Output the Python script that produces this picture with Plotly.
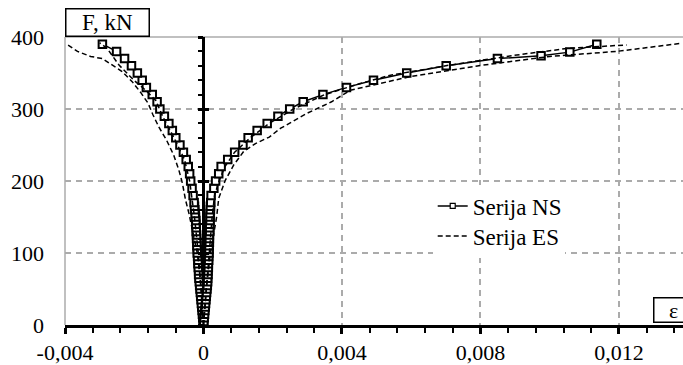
import plotly.graph_objects as go

# ---------------- data ----------------
# Serija NS (solid, open squares): compression (left) and tension (right) branches
ns_left_F = [0, 5, 10, 15, 20, 25, 30, 35, 40, 45, 50, 55, 60, 65, 70, 75, 80, 85, 90, 95,
             100, 105, 110, 115, 120, 125, 130, 135, 140, 145, 150, 155, 160, 165, 170,
             180, 190, 200, 210, 220, 230, 240, 250, 260, 270, 280, 290, 300, 310, 320,
             330, 340, 350, 360, 370, 380, 390]
ns_left_eps = [0.0, -0.00001, -0.00002, -0.00003, -0.00004, -0.00005, -0.00006, -0.00007,
               -0.00008, -0.00009, -0.00010, -0.00011, -0.00012, -0.00013, -0.00014, -0.00014,
               -0.00015, -0.00016, -0.00016, -0.00017, -0.00018, -0.00018, -0.00019, -0.00019,
               -0.00020, -0.00020, -0.00021, -0.00021, -0.00022, -0.00022, -0.00023, -0.00024,
               -0.00025, -0.00026, -0.00027,
               -0.00030, -0.00033, -0.00037, -0.00040, -0.00044, -0.00050, -0.00058, -0.00068,
               -0.00080, -0.00090, -0.00100, -0.00113, -0.00126, -0.00134, -0.00148, -0.00165,
               -0.00177, -0.00191, -0.00208, -0.00228, -0.00251, -0.00292]

ns_right_F = [0, 5, 10, 15, 20, 25, 30, 35, 40, 45, 50, 55, 60, 65, 70, 75, 80, 85, 90, 95,
              100, 105, 110, 115, 120, 125, 130, 135, 140, 145, 150, 155, 160, 165, 170,
              180, 190, 200, 210, 220, 230, 240, 250, 260, 270, 280, 290, 300, 310, 320,
              330, 340, 350, 360, 370, 374, 379, 390]
ns_right_eps = [0.0, 0.00001, 0.00002, 0.00003, 0.00004, 0.00005, 0.00006, 0.00007, 0.00008,
                0.00009, 0.00010, 0.00011, 0.00012, 0.00012, 0.00013, 0.00013, 0.00014, 0.00014,
                0.00015, 0.00015, 0.00016, 0.00016, 0.00016, 0.00017, 0.00017, 0.00017, 0.00018,
                0.00018, 0.00018, 0.00019, 0.00019, 0.00019, 0.00020, 0.00020, 0.00021,
                0.00022, 0.00030, 0.00035, 0.00044, 0.00051, 0.00070, 0.00090, 0.00114,
                0.00129, 0.00155, 0.00184, 0.00215, 0.00249, 0.00288, 0.00345, 0.00413,
                0.00491, 0.00587, 0.00701, 0.00849, 0.00975, 0.01058, 0.01136]

# Serija ES (dashed): four gauges
es_left_outer_F = [0, 50, 100, 137, 155, 174, 197, 215, 236, 257, 275, 292, 308, 322, 338,
                   352, 363, 370, 373, 380, 390]
es_left_outer_eps = [0.0, -0.00006, -0.00018, -0.00033, -0.00042, -0.00052, -0.00061, -0.00071,
                     -0.00086, -0.00107, -0.00129, -0.00146, -0.00160, -0.00180, -0.00206,
                     -0.00235, -0.00268, -0.00292, -0.00326, -0.00364, -0.00395]

es_left_inner_F = [0, 50, 100, 150, 200, 230, 260, 290, 312, 326, 340, 361, 384, 392]
es_left_inner_eps = [0.0, -0.00008, -0.00015, -0.00026, -0.00040, -0.00055, -0.00085,
                     -0.00118, -0.00138, -0.00167, -0.00201, -0.00244, -0.00278, -0.00300]

es_right_inner_F = [0, 50, 100, 150, 180, 200, 220, 240, 260, 280, 300, 320, 335, 347, 361,
                    375, 384, 389]
es_right_inner_eps = [0.0, 0.00008, 0.00016, 0.00025, 0.00032, 0.00045, 0.00062, 0.00090,
                      0.00135, 0.00190, 0.00260, 0.00350, 0.00450, 0.00540, 0.00712, 0.00905,
                      0.01049, 0.01222]

es_right_outer_F = [0, 50, 100, 130, 150, 176, 201, 222, 241, 252, 261, 273, 282, 294, 310,
                    326, 345, 361, 373, 380, 391]
es_right_outer_eps = [0.0, 0.00008, 0.00020, 0.00030, 0.00038, 0.00044, 0.00063, 0.00087,
                      0.00116, 0.00150, 0.00190, 0.00222, 0.00256, 0.00299, 0.00370, 0.00424,
                      0.00597, 0.00809, 0.01000, 0.01193, 0.01376]

x_tick_vals = [-0.004, 0, 0.004, 0.008, 0.012]
x_tick_text = ["-0,004", "0", "0,004", "0,008", "0,012"]
y_tick_vals = [0, 100, 200, 300, 400]
y_tick_text = ["0", "100", "200", "300", "400"]
x_range = [-0.004, 0.01385]
y_range = [0, 400]

FONT = "Liberation Serif, Times New Roman, serif"
GRID = "#ababab"

fig = go.Figure()

for ex, fy in [(ns_left_eps, ns_left_F), (ns_right_eps, ns_right_F)]:
    fig.add_trace(go.Scatter(x=ex, y=fy, mode="lines+markers", showlegend=False,
                             line=dict(color="black", width=1.5),
                             marker=dict(symbol="square", size=7.5, color="white",
                                         line=dict(color="black", width=2))))

es_dash = "5px,3px"
es_sets = [(es_left_outer_eps, es_left_outer_F), (es_left_inner_eps, es_left_inner_F),
           (es_right_inner_eps, es_right_inner_F), (es_right_outer_eps, es_right_outer_F)]
for ex, fy in es_sets:
    fig.add_trace(go.Scatter(x=ex, y=fy, mode="lines", showlegend=False,
                             line=dict(color="black", width=1.5, dash=es_dash)))

# legend entries (small marker as in the original legend), one legend box per entry;
# the lower entry's box is drawn first so the upper one can overlap it cleanly
fig.add_trace(go.Scatter(x=[None], y=[None], mode="lines", name="Serija ES",
                         legend="legend",
                         line=dict(color="black", width=1.5, dash=es_dash)))
fig.add_trace(go.Scatter(x=[None], y=[None], mode="lines+markers", name="Serija NS",
                         legend="legend2", line=dict(color="black", width=1.5),
                         marker=dict(symbol="square", size=5, color="white",
                                     line=dict(color="black", width=1.2))))

# dummy traces so the tick-only axes on eps=0 are drawn
fig.add_trace(go.Scatter(x=[None], y=[None], yaxis="y2", showlegend=False, hoverinfo="skip"))
fig.add_trace(go.Scatter(x=[None], y=[None], yaxis="y3", showlegend=False, hoverinfo="skip"))

pos0 = (0 - x_range[0]) / (x_range[1] - x_range[0])

legend_common = dict(xanchor="left", yanchor="middle", bgcolor="white", borderwidth=0,
                     font=dict(family=FONT, size=23))

fig.update_layout(
    width=683, height=365,
    margin=dict(l=65, r=0, t=37, b=40),
    paper_bgcolor="white", plot_bgcolor="white",
    font=dict(family=FONT, size=22, color="black"),
    xaxis=dict(range=x_range, tickvals=x_tick_vals, ticktext=x_tick_text,
               ticks="outside", ticklen=6, tickwidth=3, tickcolor="black",
               minor=dict(dtick=0.0008, tick0=0, ticks="outside", ticklen=5,
                          tickwidth=2, tickcolor="black", showgrid=False),
               showline=True, linecolor="black", linewidth=3,
               showgrid=True, gridcolor=GRID, griddash="6px,5px", gridwidth=1.5,
               zeroline=True, zerolinecolor="black", zerolinewidth=3,
               tickfont=dict(family=FONT, size=22), automargin=False),
    yaxis=dict(range=y_range, tickvals=y_tick_vals, ticktext=y_tick_text,
               ticks="", showline=False, zeroline=False,
               showgrid=True, gridcolor=GRID, griddash="6px,5px", gridwidth=1.5,
               ticklabelstandoff=20, tickfont=dict(family=FONT, size=22), automargin=False),
    yaxis2=dict(range=y_range, overlaying="y", anchor="free", position=pos0, side="left",
                tickvals=y_tick_vals, ticks="outside", ticklen=5, tickwidth=3,
                tickcolor="black",
                minor=dict(dtick=20, tick0=0, ticks="outside", ticklen=5, tickwidth=2,
                           tickcolor="black", showgrid=False),
                showticklabels=False, showgrid=False, showline=False, zeroline=False,
                automargin=False),
    yaxis3=dict(range=y_range, overlaying="y", anchor="free", position=pos0, side="left",
                tickvals=y_tick_vals, ticks="inside", ticklen=5, tickwidth=3,
                tickcolor="black",
                showticklabels=False, showgrid=False, showline=False, zeroline=False,
                automargin=False),
    legend=dict(x=0.595, y=(325 - 236) / 288, **legend_common),
    legend2=dict(x=0.595, y=(325 - 206) / 288, **legend_common),
    shapes=[
        dict(type="line", xref="paper", yref="paper", x0=0, x1=1, y0=1, y1=1,
             line=dict(color=GRID, width=1.5), layer="below"),
        dict(type="line", xref="paper", yref="paper", x0=0, x1=0, y0=0, y1=1,
             line=dict(color=GRID, width=1.5), layer="below"),
    ],
    annotations=[
        dict(text="F, kN", xref="paper", yref="paper", x=0, y=1, xanchor="left",
             yanchor="bottom", showarrow=False, bgcolor="white", bordercolor="black",
             borderwidth=1.5, borderpad=1, width=80, height=24,
             font=dict(family=FONT, size=23)),
        dict(text="ε", xref="paper", yref="paper", x=1, y=0, xanchor="left",
             yanchor="bottom", xshift=-30, yshift=2, showarrow=False, bgcolor="white",
             bordercolor="black", borderwidth=1.5, borderpad=1, width=36, height=21,
             font=dict(family=FONT, size=22)),
    ],
)

fig.write_html("out.html", config={"displayModeBar": False},
               post_script="document.body.style.margin='0';document.body.style.overflow='hidden';")
